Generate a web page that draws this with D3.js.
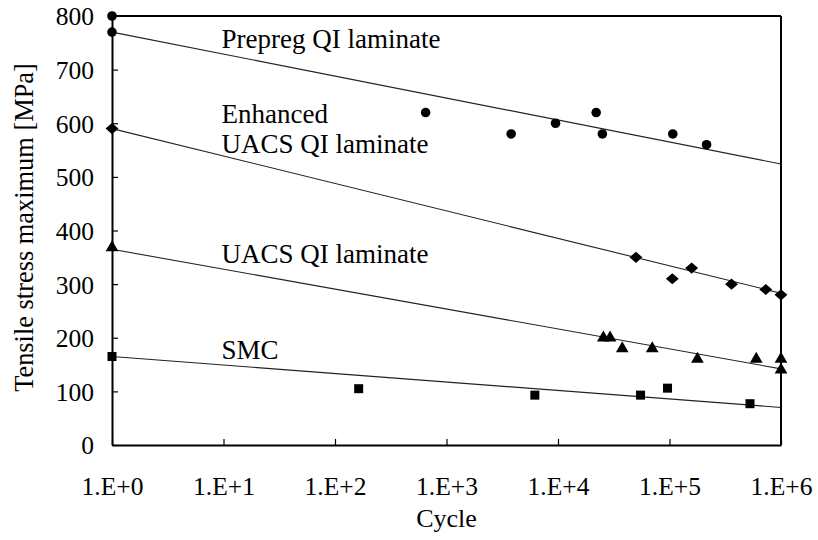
<!DOCTYPE html>
<html><head><meta charset="utf-8">
<script src="https://cdn.jsdelivr.net/npm/d3@7"></script>
<style>body{margin:0;background:#fff}svg{display:block}</style>
</head><body><svg id="c" width="818" height="540"></svg>
<script>
const xTicks = [1, 10, 100, 1000, 10000, 100000, 1000000];
const xTickLabels = ["1.E+0", "1.E+1", "1.E+2", "1.E+3", "1.E+4", "1.E+5", "1.E+6"];
const yTicks = [0, 100, 200, 300, 400, 500, 600, 700, 800];

const prepregX = [1, 1, 650, 3800, 9500, 22000, 25000, 107000, 215000];
const prepregY = [800, 770, 620, 580, 600, 620, 580, 580, 560];
const enhancedX = [1, 50000, 106000, 158000, 360000, 730000, 1000000];
const enhancedY = [590, 350, 310, 330, 300, 290, 280];
const uacsX = [1, 25500, 29300, 37700, 70000, 178000, 600000, 1000000, 1000000];
const uacsY = [368, 200, 200, 180, 180, 160, 160, 160, 140];
const smcX = [1, 163, 6200, 55000, 96000, 527000];
const smcY = [165, 105, 93, 93, 106, 77];

const fitX = [1, 1000000];
const prepregFit = [770, 524];
const enhancedFit = [590, 283];
const uacsFit = [365, 142];
const smcFit = [165, 70];

const labels = [
  {lines: ["Prepreg QI laminate"], x: 9.6, y: 740},
  {lines: ["Enhanced", "UACS QI laminate"], x: 9.6, y: 600},
  {lines: ["UACS QI laminate"], x: 9.6, y: 340},
  {lines: ["SMC"], x: 9.6, y: 160}
];

const FONT = "'Liberation Serif', 'Times New Roman', Times, 'DejaVu Serif', serif";
const W = 818, H = 540;
const m = {l: 112, r: 37, t: 16, b: 95};
const svg = d3.select("#c");
const x = d3.scaleLog().domain([1, 1e6]).range([m.l, W - m.r]);
const y = d3.scaleLinear().domain([0, 800]).range([H - m.b, m.t]);

// fit lines
const line = d3.line().x(d => x(d[0])).y(d => y(d[1]));
[prepregFit, enhancedFit, uacsFit, smcFit].forEach(f => {
  svg.append("path").attr("d", line(fitX.map((xv, i) => [xv, f[i]])))
    .attr("fill", "none").attr("stroke", "#222").attr("stroke-width", 1.1);
});

// axes (inward ticks)
const xAxis = d3.axisBottom(x).tickValues(xTicks).tickFormat((d, i) => xTickLabels[i]).tickSizeInner(-6).tickSizeOuter(0).tickPadding(40);
const gx = svg.append("g").attr("transform", `translate(0,${H - m.b})`).call(xAxis);
const yAxis = d3.axisLeft(y).tickValues(yTicks).tickSizeInner(-6).tickSizeOuter(0).tickPadding(18);
const gy = svg.append("g").attr("transform", `translate(${m.l},0)`).call(yAxis);
[gx, gy].forEach(g => {
  g.attr("font-family", null);
  g.selectAll("text").style("font-size", "25.5px").style("font-family", FONT).style("fill", "#000");
  g.select(".domain").attr("stroke", "#000").attr("stroke-width", 2);
  g.selectAll(".tick line").attr("stroke", "#000").attr("stroke-width", 1.2);
});
gx.selectAll(".tick text").attr("dy", "0.4em");
gy.selectAll(".tick text").attr("dy", "0.35em");
// frame top & right
svg.append("line").attr("x1", m.l).attr("x2", W - m.r).attr("y1", m.t).attr("y2", m.t).attr("stroke", "#000").attr("stroke-width", 2);
svg.append("line").attr("x1", W - m.r).attr("x2", W - m.r).attr("y1", m.t).attr("y2", H - m.b).attr("stroke", "#000").attr("stroke-width", 2);

// markers
const g = svg.append("g");
g.selectAll(".c").data(prepregX.map((v, i) => [v, prepregY[i]])).join("circle")
  .attr("cx", d => x(d[0])).attr("cy", d => y(d[1])).attr("r", 4.8).attr("fill", "#000");
const sym = (type, size) => d3.symbol().type(type).size(size)();
g.selectAll(".d").data(enhancedX.map((v, i) => [v, enhancedY[i]])).join("path")
  .attr("d", sym(d3.symbolDiamond2, 80)).attr("transform", d => `translate(${x(d[0])},${y(d[1])}) scale(1.15,1)`).attr("fill", "#000");
g.selectAll(".t").data(uacsX.map((v, i) => [v, uacsY[i]])).join("path")
  .attr("d", sym(d3.symbolTriangle, 70)).attr("transform", d => `translate(${x(d[0])},${y(d[1])})`).attr("fill", "#000");
g.selectAll(".s").data(smcX.map((v, i) => [v, smcY[i]])).join("rect")
  .attr("x", d => x(d[0]) - 4.5).attr("y", d => y(d[1]) - 4.5).attr("width", 9).attr("height", 9).attr("fill", "#000");

// annotations
labels.forEach(L => {
  const t = svg.append("text").attr("x", x(L.x)).attr("y", y(L.y)).style("font-size", "27px").style("font-family", FONT).style("fill", "#000");
  L.lines.forEach((s, i) => t.append("tspan").attr("x", x(L.x)).attr("dy", i === 0 ? 0 : 30).text(s));
});

// axis titles
svg.append("text").attr("x", (m.l + W - m.r) / 2).attr("y", 527).attr("text-anchor", "middle").style("font-size", "26px").style("font-family", FONT).style("fill", "#000").text("Cycle");
svg.append("text").attr("transform", `translate(33,227.5) rotate(-90)`).attr("text-anchor", "middle").style("font-size", "26.4px").style("font-family", FONT).style("fill", "#000").text("Tensile stress maximum [MPa]");
</script></body></html>
